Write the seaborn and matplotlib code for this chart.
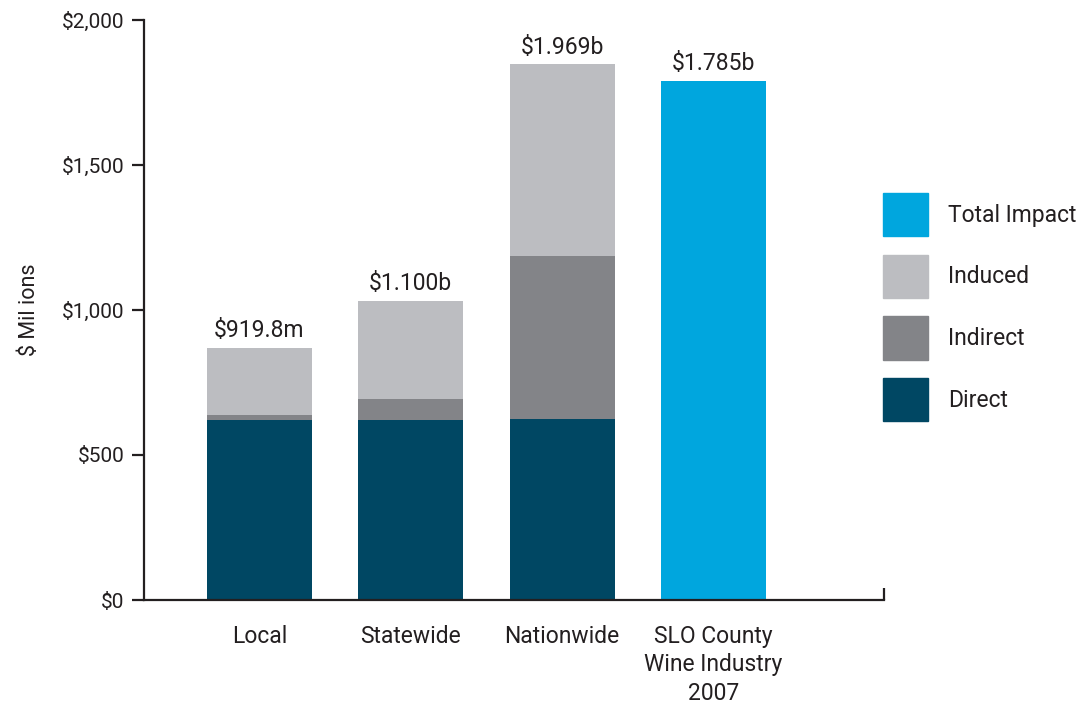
import seaborn as sns
import matplotlib.pyplot as plt
import matplotlib.ticker as mticker
import pandas as pd

# economic impact, $ millions
categories = ["Local", "Statewide", "Nationwide", "SLO County\nWine Industry\n2007"]
direct = [621, 621, 624]
indirect = [17, 72, 562]
induced = [231, 338, 662]
total_impact = 1790
value_labels = ["$919.8m", "$1.100b", "$1.969b", "$1.785b"]

c_direct = "#004763"
c_indirect = "#838488"
c_induced = "#bcbdc1"
c_total = "#00a6de"
ink = "#231f20"

sns.set_theme(style="white")
plt.rcParams['font.family'] = ['Roboto', 'DejaVu Sans']

# cumulative heights for stacking
top = [d + i + n for d, i, n in zip(direct, indirect, induced)] + [total_impact]
mid = [d + i for d, i in zip(direct, indirect)]
df_top = pd.DataFrame({'cat': categories, 'val': top})
df_mid = pd.DataFrame({'cat': categories[:3], 'val': mid})
df_low = pd.DataFrame({'cat': categories[:3], 'val': direct})

fig = plt.figure(figsize=(10.88, 7.03), dpi=100)
ax = fig.add_axes([144 / 1088, 103 / 703, 740 / 1088, 580 / 703])

bar_kw = dict(width=0.695, saturation=1, linewidth=0, ax=ax)
sns.barplot(data=df_top, x='cat', y='val', hue='cat', order=categories, hue_order=categories,
            palette=[c_induced, c_induced, c_induced, c_total], legend=False, **bar_kw)
sns.barplot(data=df_mid, x='cat', y='val', order=categories, color=c_indirect, **bar_kw)
sns.barplot(data=df_low, x='cat', y='val', order=categories, color=c_direct, **bar_kw)

# value labels above the tallest layer
for cont, lab in zip(ax.containers[:4], value_labels):
    ax.bar_label(cont, labels=[lab], padding=4, fontsize=16.5, color=ink)

ax.set_ylim(0, 2000)
ax.set_xlim(-0.763, 4.127)
ax.set_yticks([0, 500, 1000, 1500, 2000])
ax.yaxis.set_major_formatter(mticker.StrMethodFormatter('${x:,.0f}'))
ax.set_xlabel("")
ax.set_ylabel("$ Mil ions", fontsize=15.5, color=ink, labelpad=16)

sns.despine(ax=ax)
for s in ['left', 'bottom']:
    ax.spines[s].set_color(ink)
    ax.spines[s].set_linewidth(1.6)

ax.tick_params(axis='y', which='major', left=True, direction='out', length=9, width=1.6,
               color=ink, labelsize=15, labelcolor=ink, pad=5)
ax.tick_params(axis='x', which='major', bottom=False, labelsize=16.5, labelcolor=ink, pad=12)
ax.set_xticks([4.127], minor=True)
ax.tick_params(axis='x', which='minor', bottom=True, direction='in', length=9, width=1.6, color=ink)
for t in ax.get_xticklabels():
    t.set_linespacing(1.3)
    t.set_verticalalignment('top')

handles = [plt.Rectangle((0, 0), 1, 1, color=c) for c in [c_total, c_induced, c_indirect, c_direct]]
fig.legend(handles, ["Total Impact", "Induced", "Indirect", "Direct"],
           loc='upper left', bbox_to_anchor=(883 / 1088, 1 - 193 / 703), frameon=False,
           borderpad=0, borderaxespad=0, fontsize=16.5, handlelength=1.96, handleheight=2.53,
           handletextpad=0.88, labelspacing=0.8, labelcolor=ink)

fig.savefig("out.png", dpi=100)
